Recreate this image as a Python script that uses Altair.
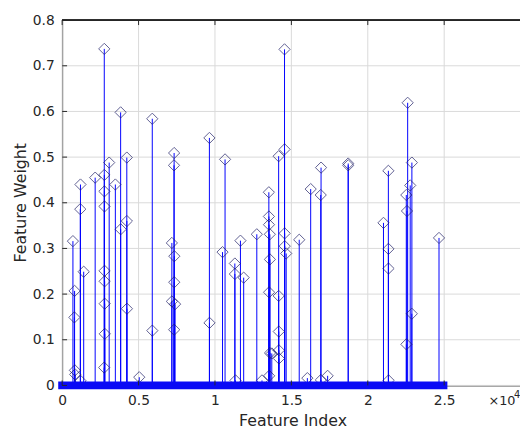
import altair as alt
import pandas as pd

feature_index = [705, 814, 800, 833, 850, 1199, 1186, 1205, 1410, 2160,
                 2756, 2760, 2765, 2770, 2775, 2780, 2785, 2790, 2750, 3077,
                 3481, 3827, 3830, 4231, 4235, 4240, 5045, 5897, 5900, 7327,
                 7320, 7179, 7340, 7335, 7180, 7391, 7330, 9635, 9640, 10494,
                 10660, 11301, 11305, 11346, 11667, 11878, 12737, 13077, 13526, 13530,
                 13535, 13590, 13595, 13540, 13600, 13545, 13718, 14167, 14170, 14175,
                 14180, 14185, 14551, 14555, 14560, 14565, 14660, 15513, 16045, 16263,
                 16942, 16920, 16930, 17372, 18718, 18720, 21026, 21346, 21350, 21355,
                 21360, 22609, 22885, 22776, 22519, 22564, 22880, 22525, 24660]
feature_weight = [0.316, 0.207, 0.149, 0.033, 0.024, 0.440, 0.386, 0.010, 0.249, 0.455,
                  0.737, 0.461, 0.425, 0.392, 0.251, 0.228, 0.179, 0.113, 0.039, 0.488,
                  0.440, 0.598, 0.342, 0.499, 0.360, 0.168, 0.018, 0.584, 0.120, 0.509,
                  0.482, 0.312, 0.283, 0.226, 0.184, 0.178, 0.122, 0.542, 0.137, 0.292,
                  0.495, 0.267, 0.244, 0.011, 0.317, 0.236, 0.331, 0.011, 0.423, 0.370,
                  0.352, 0.331, 0.276, 0.204, 0.071, 0.021, 0.070, 0.502, 0.196, 0.118,
                  0.077, 0.059, 0.736, 0.517, 0.333, 0.305, 0.289, 0.319, 0.016, 0.430,
                  0.477, 0.417, 0.012, 0.021, 0.486, 0.482, 0.356, 0.470, 0.299, 0.256,
                  0.011, 0.619, 0.488, 0.438, 0.417, 0.382, 0.157, 0.090, 0.323]

# features with zero weight form a continuous band along the baseline
zero_start = [0]
zero_end = [24950]

x_ticks = [0, 5000, 10000, 15000, 20000, 25000]
y_ticks = [0, 0.1, 0.2, 0.3, 0.4, 0.5, 0.6, 0.7, 0.8]
x_domain = [0, 29960]
y_domain = [0, 0.8]

df = pd.DataFrame({"idx": feature_index, "w": feature_weight})
zdf = pd.DataFrame({"idx": zero_start, "e": zero_end})
xt = pd.DataFrame({"idx": x_ticks})
yt = pd.DataFrame({"w": y_ticks, "x0": [0] * len(y_ticks), "x1": [x_domain[1]] * len(y_ticks)})

AX = "#262626"
GRID = "#d9d9d9"
FONT = "DejaVu Sans"
xs = alt.Scale(domain=x_domain, nice=False, zero=False)
ys = alt.Scale(domain=y_domain, nice=False)

xaxis = alt.Axis(values=x_ticks, labelExpr="format(datum.value/10000, '~g')",
                 title="Feature Index", grid=False, ticks=False, labelFlush=False,
                 labelPadding=8, titleX=234, titleY=41,
                 titleBaseline="alphabetic", titleAlign="center")
yaxis = alt.Axis(values=y_ticks, format="~g", title="Feature Weight",
                 grid=False, ticks=False, labelPadding=8, labelFlush=False,
                 titleX=-37, titleY=185, titleBaseline="alphabetic",
                 titleAlign="center")
X = alt.X("idx:Q", scale=xs, axis=xaxis)
Y = alt.Y("w:Q", scale=ys, axis=yaxis)

vgrid = alt.Chart(xt).mark_rule(stroke=GRID, strokeWidth=1).encode(
    x=X, y=alt.value(0), y2=alt.value(371))
hgrid = alt.Chart(yt).mark_rule(stroke=GRID, strokeWidth=1).encode(
    y=Y, x=alt.X("x0:Q", scale=xs, axis=xaxis), x2="x1:Q")

stems = alt.Chart(df).mark_rule(color="#0000ff", strokeWidth=1).encode(
    x=X, y=Y, y2=alt.datum(0),
)

markers = alt.Chart(df).mark_point(shape="diamond", filled=False, size=130,
                                   color="#1c1c66", strokeWidth=1).encode(
    x=X, y=Y,
)

band = alt.Chart(zdf).mark_rule(color="#0a0af5", strokeWidth=8, strokeCap="square").encode(
    x=X, x2="e:Q", y=alt.Y(datum=0, scale=ys, axis=yaxis),
)

bticks = alt.Chart(xt).mark_rule(color=AX).encode(
    x=X, y=alt.value(371), y2=alt.value(366))
tticks = alt.Chart(xt).mark_rule(color=AX).encode(
    x=X, y=alt.value(0), y2=alt.value(5))
lticks = alt.Chart(yt).mark_rule(color=AX).encode(
    y=Y, x=alt.value(0), x2=alt.value(5))

topline = alt.Chart(xt).mark_rule(color=AX).encode(
    x=alt.value(0), x2=alt.value(465), y=alt.value(0))

lab = pd.DataFrame({"t": ["×10"]})
sup = pd.DataFrame({"t": ["4"]})
mult = alt.Chart(lab).mark_text(align="left", baseline="alphabetic", fontSize=13,
                                font=FONT, color=AX).encode(
    text="t:N", x=alt.value(433), y=alt.value(391))
exp = alt.Chart(sup).mark_text(align="left", baseline="alphabetic", fontSize=10,
                               font=FONT, color=AX).encode(
    text="t:N", x=alt.value(459), y=alt.value(384))

chart = alt.layer(vgrid, hgrid, stems, markers, band, bticks, tticks, lticks, topline,
                  mult, exp).properties(
    width=465, height=371,
    autosize=alt.AutoSizeParams(type="none"),
    padding={"left": 55, "top": 9, "right": 0, "bottom": 44},
    background="white",
).configure_view(stroke=None).configure_axis(
    domainColor=AX, labelColor=AX, titleColor=AX,
    labelFont=FONT, titleFont=FONT, labelFontSize=14, titleFontSize=16,
    titleFontWeight="normal", domainWidth=1,
)

chart.save("out.html", embed_options={"renderer": "svg", "actions": False})
